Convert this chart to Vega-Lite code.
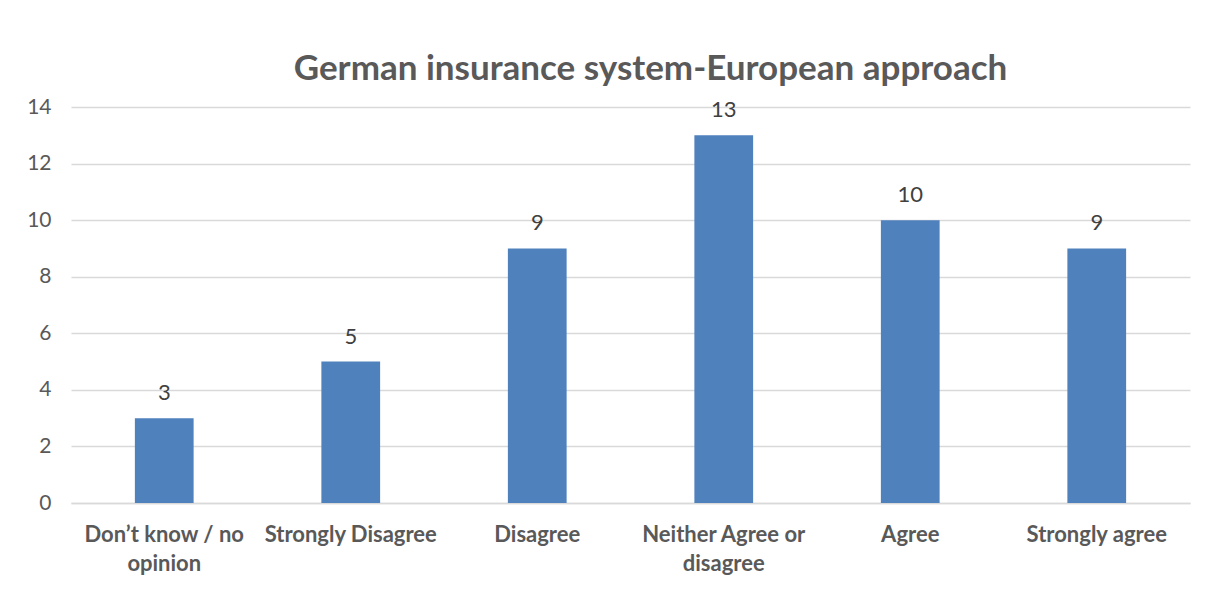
{
  "$schema": "https://vega.github.io/schema/vega-lite/v6.json",
  "autosize": {"type": "none"},
  "width": 1119,
  "height": 396,
  "padding": {"left": 71, "top": 107, "right": 26, "bottom": 90},
  "background": "white",
  "config": {"view": {"stroke": null}, "font": "Lato"},
  "title": {
    "text": "German insurance system-European approach",
    "fontSize": 35,
    "font": "Lato",
    "fontWeight": "bold",
    "color": "#595959",
    "anchor": "middle",
    "dx": 20,
    "offset": 9
  },
  "data": {
    "values": [
      {"category": "Don’t know / no opinion", "count": 3},
      {"category": "Strongly Disagree", "count": 5},
      {"category": "Disagree", "count": 9},
      {"category": "Neither Agree or disagree", "count": 13},
      {"category": "Agree", "count": 10},
      {"category": "Strongly agree", "count": 9}
    ]
  },
  "encoding": {
    "x": {
      "field": "category",
      "type": "nominal",
      "sort": null,
      "scale": {"paddingInner": 0.685, "paddingOuter": 0.3425},
      "axis": {
        "title": null,
        "labelAngle": 0,
        "labelFont": "Lato",
        "labelFontSize": 22,
        "labelFontWeight": "bold",
        "labelColor": "#595959",
        "labelPadding": 21,
        "labelLineHeight": 29,
        "labelBaseline": "top",
        "ticks": false,
        "domain": true,
        "domainColor": "#d9d9d9",
        "domainWidth": 1.5,
        "labelExpr": "datum.value == 'Don’t know / no opinion' ? ['Don’t know / no', 'opinion'] : datum.value == 'Neither Agree or disagree' ? ['Neither Agree or', 'disagree'] : datum.value"
      }
    },
    "y": {
      "field": "count",
      "type": "quantitative",
      "scale": {"domain": [0, 14], "nice": false},
      "axis": {
        "title": null,
        "values": [0, 2, 4, 6, 8, 10, 12, 14],
        "labelFont": "Lato",
        "labelFontSize": 21,
        "labelColor": "#595959",
        "labelPadding": 20,
        "ticks": false,
        "domain": false,
        "grid": true,
        "gridColor": "#d9d9d9",
        "gridWidth": 1.5
      }
    }
  },
  "layer": [
    {"mark": {"type": "bar", "color": "#4f81bd"}},
    {
      "mark": {"type": "text", "baseline": "alphabetic", "dy": -18, "fontSize": 22, "color": "#404040", "font": "Lato"},
      "encoding": {"text": {"field": "count", "type": "quantitative"}}
    }
  ]
}
